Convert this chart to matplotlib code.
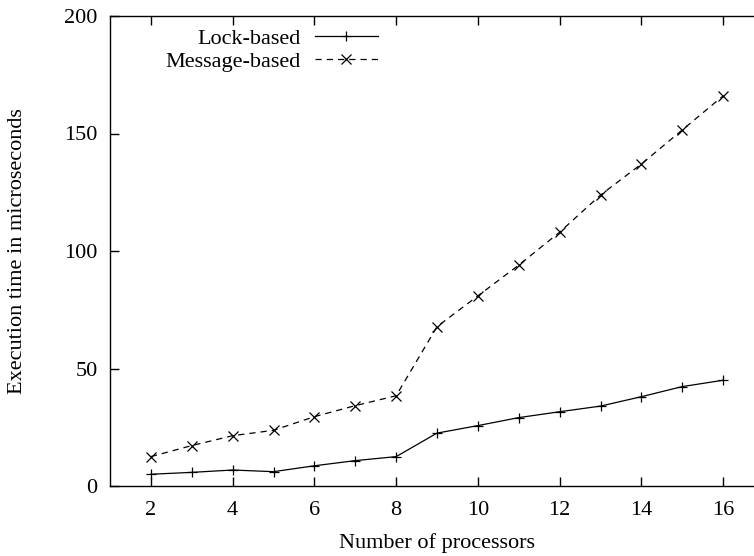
import matplotlib
matplotlib.use("Agg")
import matplotlib.pyplot as plt

processors = [2, 3, 4, 5, 6, 7, 8, 9, 10, 11, 12, 13, 14, 15, 16]
lock_based = [5.0, 5.8, 6.8, 6.1, 8.6, 10.8, 12.5, 22.5, 25.7, 29.1, 31.6, 34.0, 38.0, 42.3, 45.0]
message_based = [12.5, 17.2, 21.4, 23.7, 29.5, 34.2, 38.4, 67.8, 80.9, 94.0, 108.0, 123.8, 137.0, 151.5, 166.0]
xticks = [2, 4, 6, 8, 10, 12, 14, 16]
yticks = [0, 50, 100, 150, 200]

plt.rcParams['font.family'] = ['Liberation Serif', 'DejaVu Serif']
FS = 16
W, H = 754, 556
fig = plt.figure(figsize=(W / 100, H / 100), dpi=100)
left, right, bottom, top = 110, 764, 486, 16
ax = fig.add_axes([left / W, (H - bottom) / H, (right - left) / W, (bottom - top) / H])

ax.plot(processors, lock_based, color='black', linewidth=0.9, marker='+',
        markersize=7.5, markeredgewidth=0.9, label='Lock-based')
ax.plot(processors, message_based, color='black', linewidth=0.9, linestyle=(0, (5, 4)),
        marker='x', markersize=7, markeredgewidth=0.9, label='Message-based')

ax.set_xlim(1, 17)
ax.set_ylim(0, 200)
ax.set_xticks(xticks)
ax.set_yticks(yticks)
ax.tick_params(direction='in', length=6.5, width=1.0, top=True, right=True,
               labelsize=FS, pad=9)
ax.tick_params(axis='x', pad=11)
for s in ax.spines.values():
    s.set_linewidth(1.0)

ax.set_xlabel('Number of processors', fontsize=FS)
ax.xaxis.set_label_coords(437 / W, 1 - 543 / H, transform=fig.transFigure)
ax.xaxis.label.set_va('center')
ax.set_ylabel('Execution time in microseconds', fontsize=FS)
ax.yaxis.set_label_coords(18 / W, 1 - 251 / H, transform=fig.transFigure)
ax.yaxis.label.set_va('center')

leg = ax.legend(loc='center right', bbox_to_anchor=(378 / W, 1 - 50 / H),
                bbox_transform=fig.transFigure, frameon=False, markerfirst=False,
                fontsize=FS, handlelength=2.85, handletextpad=0.65,
                labelspacing=0.1, numpoints=1, borderaxespad=0, borderpad=0)
for t in leg.get_texts():
    t.set_ha('right')
leg._legend_box.align = 'right'

fig.savefig('out.png', dpi=100)
